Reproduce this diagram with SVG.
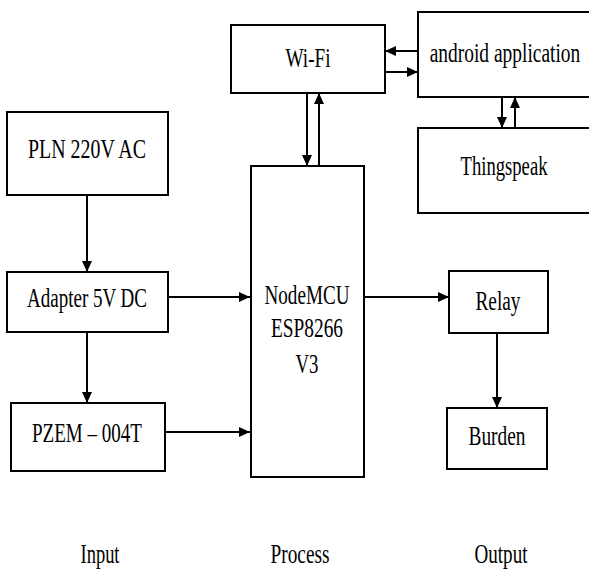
<svg xmlns="http://www.w3.org/2000/svg" width="589" height="570" viewBox="0 0 589 570">
<defs>
<marker id="ah" markerUnits="userSpaceOnUse" markerWidth="12" markerHeight="10" refX="11" refY="5" orient="auto">
<path d="M0,0 L11,5 L0,10 z" fill="#000"/>
</marker>
<style>
.box{fill:#fff;stroke:#000;stroke-width:2}
.t{font-family:'Liberation Serif','Times New Roman','DejaVu Serif',serif;font-size:27px;fill:#000;text-anchor:middle}
.c{stroke:#000;stroke-width:2;fill:none;marker-end:url(#ah)}
</style>
</defs>
<rect width="589" height="570" fill="#fff"/>
<g id="connectors">
<line class="c" x1="87" y1="195" x2="87" y2="272"/>
<line class="c" x1="87" y1="332" x2="87" y2="403"/>
<line class="c" x1="168" y1="297" x2="250" y2="297"/>
<line class="c" x1="165" y1="432" x2="250" y2="432"/>
<line class="c" x1="364" y1="297" x2="449" y2="297"/>
<line class="c" x1="497" y1="333" x2="497" y2="408"/>
<line class="c" x1="307" y1="93" x2="307" y2="166"/>
<line class="c" x1="319" y1="166" x2="319" y2="93"/>
<line class="c" x1="418" y1="51" x2="385" y2="51"/>
<line class="c" x1="385" y1="72" x2="418" y2="72"/>
<line class="c" x1="502" y1="97" x2="502" y2="128"/>
<line class="c" x1="515" y1="128" x2="515" y2="97"/>
</g>
<g id="wifi">
<rect class="box" x="231" y="25" width="154" height="68"/>
<text class="t" x="308" y="67" textLength="45" lengthAdjust="spacingAndGlyphs">Wi-Fi</text>
</g>
<g id="android">
<rect class="box" x="418" y="12" width="180" height="85"/>
<text class="t" transform="translate(505,62) scale(0.72,1)" x="0" y="0">android application</text>
</g>
<g id="thingspeak">
<rect class="box" x="418" y="128" width="180" height="85"/>
<text class="t" x="504" y="175" textLength="87" lengthAdjust="spacingAndGlyphs">Thingspeak</text>
</g>
<g id="pln">
<rect class="box" x="7" y="112" width="161" height="83"/>
<text class="t" x="87" y="158" textLength="118" lengthAdjust="spacingAndGlyphs">PLN 220V AC</text>
</g>
<g id="adapter">
<rect class="box" x="7" y="272" width="161" height="60"/>
<text class="t" x="87" y="307" textLength="120" lengthAdjust="spacingAndGlyphs">Adapter 5V DC</text>
</g>
<g id="pzem">
<rect class="box" x="11" y="403" width="154" height="68"/>
<text class="t" x="87" y="442" textLength="110" lengthAdjust="spacingAndGlyphs">PZEM – 004T</text>
</g>
<g id="nodemcu">
<rect class="box" x="251" y="166" width="113" height="311"/>
<text class="t" x="307" y="304" textLength="85" lengthAdjust="spacingAndGlyphs">NodeMCU</text>
<text class="t" x="307" y="337" textLength="72" lengthAdjust="spacingAndGlyphs">ESP8266</text>
<text class="t" x="307" y="373" textLength="23" lengthAdjust="spacingAndGlyphs">V3</text>
</g>
<g id="relay">
<rect class="box" x="449" y="271" width="99" height="62"/>
<text class="t" x="498" y="310" textLength="45" lengthAdjust="spacingAndGlyphs">Relay</text>
</g>
<g id="burden">
<rect class="box" x="447" y="408" width="100" height="61"/>
<text class="t" x="497" y="445" textLength="57" lengthAdjust="spacingAndGlyphs">Burden</text>
</g>
<g id="labels">
<text class="t" x="100" y="563" textLength="39" lengthAdjust="spacingAndGlyphs">Input</text>
<text class="t" x="300" y="563" textLength="59" lengthAdjust="spacingAndGlyphs">Process</text>
<text class="t" x="501" y="563" textLength="53" lengthAdjust="spacingAndGlyphs">Output</text>
</g>
</svg>
